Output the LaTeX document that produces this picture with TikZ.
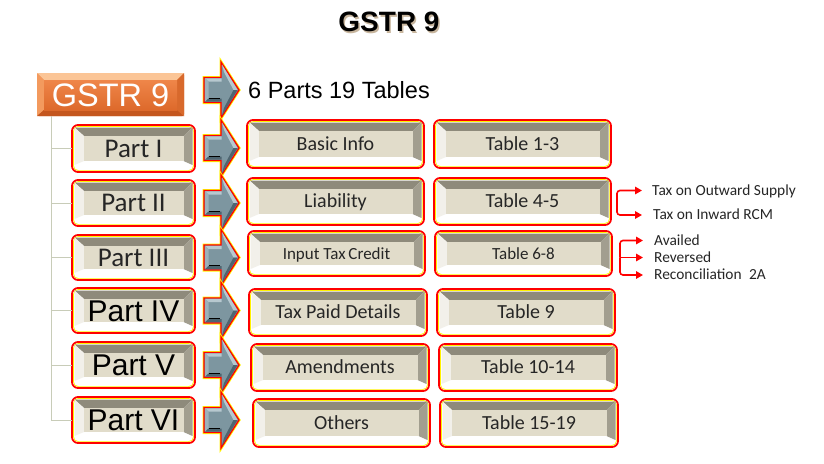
\documentclass[tikz,border=0pt]{standalone}
\usepackage{fontspec}
\setmainfont{Carlito}
\newfontfamily\arialf{Liberation Sans}
\usetikzlibrary{arrows.meta,calc}
\definecolor{bevtop}{HTML}{8E8A7B}
\definecolor{bevright}{HTML}{A29E8F}
\definecolor{bevleft}{HTML}{F2F0EA}
\definecolor{bevface}{HTML}{E1DCCA}
\definecolor{treeclr}{HTML}{C8CCB8}
\definecolor{arrface}{HTML}{7D96A0}
\definecolor{arrlight}{HTML}{B7C8CF}
\definecolor{arrmid}{HTML}{9DB1B9}
\definecolor{arrdark}{HTML}{4E6570}
\definecolor{txtclr}{HTML}{262626}
\definecolor{ortop}{HTML}{FBC596}
\definecolor{orleft}{HTML}{F39A5E}
\definecolor{orbot}{HTML}{C4561E}
\definecolor{orright}{HTML}{D8692C}
\definecolor{orfaceA}{HTML}{EF8649}
\definecolor{orfaceB}{HTML}{DD692B}
\definecolor{shadowclr}{HTML}{9B7B50}
\tikzset{
  treeline/.style={draw=treeclr, line width=1pt},
  brk/.style={draw=red, line width=1.6pt, rounded corners=3pt, -{Triangle[length=7pt,width=7.5pt]}},
  sidelabel/.style={anchor=west, inner sep=0pt, text=txtclr, font=\fontsize{15.4}{17}\selectfont, text height=9.9pt, text depth=0pt},
  smalltxt/.style={font=\fontsize{20}{22}\selectfont, text height=12.9pt},
  tinytxt/.style={font=\fontsize{17}{19}\selectfont, text height=11pt},
  partA/.style={font=\fontsize{27}{29}\selectfont, text height=17.4pt},
  partB/.style={font=\arialf\fontsize{30}{32}\selectfont, text height=21.5pt, text=black},
}
% #1 name, #2 x1, #3 y1, #4 x2, #5 y2, #6 node options, #7 text
\newcommand\bevbox[7]{%
  \pgfmathsetmacro\BVxa{#2+2.5}%
  \pgfmathsetmacro\BVya{#3+2.5}%
  \pgfmathsetmacro\BVxb{#4-2.5}%
  \pgfmathsetmacro\BVyb{#5-7}%
  \pgfmathsetmacro\BVfxa{\BVxa+9.5}%
  \pgfmathsetmacro\BVfya{\BVya+8.5}%
  \pgfmathsetmacro\BVfxb{\BVxb-9}%
  \pgfmathsetmacro\BVfyb{\BVyb-4}%
  \pgfmathsetmacro\BVw{#4-#2}%
  \pgfmathsetmacro\BVh{#5-#3}%
  \pgfmathsetmacro\BVcx{(#2+#4)/2}%
  \pgfmathsetmacro\BVcy{(\BVfya+\BVfyb)/2}%
  \draw[red, line width=1.8pt, fill=white, rounded corners=6pt] (#2,#3) rectangle (#4,#5);
  \draw[yellow, line width=0.7pt, rounded corners=5pt] ({#2+1.4},{#3+1.4}) rectangle ({#4-1.4},{#5-1.4});
  \fill[bevtop] (\BVxa,\BVya) -- (\BVxb,\BVya) -- (\BVfxb,\BVfya) -- (\BVfxa,\BVfya) -- cycle;
  \fill[bevright] (\BVxb,\BVya) -- (\BVxb,\BVyb) -- (\BVfxb,\BVfyb) -- (\BVfxb,\BVfya) -- cycle;
  \fill[bevleft] (\BVxa,\BVya) -- (\BVfxa,\BVfya) -- (\BVfxa,\BVfyb) -- (\BVxa,\BVyb) -- cycle;
  \fill[bevface] (\BVfxa,\BVfya) rectangle (\BVfxb,\BVfyb);
  \node[inner sep=0pt, minimum width=\BVw pt, minimum height=\BVh pt, text depth=0pt, text=txtclr, #6] (#1) at (\BVcx,\BVcy) {#7};
}
% #1 name, #2 centre y
\newcommand\blockarr[2]{%
  \pgfmathsetmacro\ARa{#2-12.5}%
  \pgfmathsetmacro\ARb{#2+12.5}%
  \pgfmathsetmacro\ARc{#2-28}%
  \pgfmathsetmacro\ARd{#2+28}%
  \draw[yellow, line width=3pt, line join=miter] (204,\ARa) -- (221,\ARa) -- (221,\ARc) -- (239,#2) -- (221,\ARd) -- (221,\ARb) -- (204,\ARb) -- cycle;
  \draw[red, line width=1.3pt, fill=arrface, line join=miter] (204,\ARa) -- (221,\ARa) -- (221,\ARc) -- (239,#2) -- (221,\ARd) -- (221,\ARb) -- (204,\ARb) -- cycle;
  \fill[arrlight] (205,{\ARa+0.8}) -- (221.5,{\ARa+0.8}) -- (221.5,{\ARa+4}) -- (208.5,{\ARa+4}) -- cycle;
  \fill[arrmid] (205,{\ARa+0.8}) -- (208.5,{\ARa+4}) -- (208.5,{\ARb-4}) -- (205,{\ARb-0.8}) -- cycle;
  \fill[arrlight] (222,{\ARc+2.5}) -- (237.6,#2) -- (233.5,#2) -- (224,{\ARc+10}) -- cycle;
  \fill[arrdark] (205,{\ARb-0.8}) -- (208.5,{\ARb-4}) -- (221.5,{\ARb-4}) -- (221.5,{\ARb-0.8}) -- cycle;
  \fill[arrdark] (237.6,#2) -- (222,{\ARd-2.5}) -- (224,{\ARd-10}) -- (233.5,#2) -- cycle;
  \draw[black, line width=0.6pt] (209,{\ARb-4.5}) -- (220,{\ARb-4.5});
  \coordinate (#1) at (239,#2);
}
\begin{document}
\begin{tikzpicture}[x=1pt,y=-1pt]
\useasboundingbox (0,0) rectangle (824,463);
\fill[white] (0,0) rectangle (824,463);

% title
\node[text=shadowclr, opacity=0.55, font=\arialf\bfseries\fontsize{28}{30}\selectfont, inner sep=0pt] (titleshadow) at (390.5,23.5) {GSTR 9};
\node[text=black, font=\arialf\bfseries\fontsize{28}{30}\selectfont, inner sep=0pt] (title) at (389,22) {GSTR 9};

% orange root box
\fill[orfaceB, rounded corners=2pt] (37,73) rectangle (184,116);
\fill[ortop] (37,73) -- (184,73) -- (177,80) -- (44,80) -- cycle;
\fill[orleft] (37,73) -- (44,80) -- (44,110) -- (37,116) -- cycle;
\fill[orbot] (37,116) -- (44,110) -- (177,110) -- (184,116) -- cycle;
\fill[orright] (184,73) -- (184,116) -- (177,110) -- (177,80) -- cycle;
\shade[top color=orfaceA, bottom color=orfaceB] (44,80) rectangle (177,110);
\node[inner sep=0pt, minimum width=147pt, minimum height=43pt, text=white, font=\arialf\fontsize{32.5}{34}\selectfont, text height=23.3pt, text depth=0pt] (gstr) at (110.5,94.5) {GSTR 9};

% header arrow and text
\blockarr{a0}{90}
\node[anchor=west, inner sep=0pt, font=\arialf\fontsize{23.5}{25}\selectfont, text height=16.8pt, text depth=0pt] (head) at (248,90) {6 Parts 19 Tables};

% parts column
\bevbox{p1}{72}{125}{195}{172}{partA}{Part I}
\bevbox{p2}{72}{180}{195}{226}{partA}{Part II}
\bevbox{p3}{72}{235}{195}{280}{partA}{Part III}
\bevbox{p4}{72}{288}{195}{333}{partB}{Part IV}
\bevbox{p5}{72}{342}{195}{388}{partB}{Part V}
\bevbox{p6}{72}{397}{195}{443}{partB}{Part VI}

% tree
\coordinate (troot) at ([xshift=15pt]gstr.south west);
\draw[treeline] (troot) |- (p6.west);
\foreach \k in {1,...,5}{\draw[treeline] (troot |- p\k.west) -- (p\k.west);}

% arrows
\blockarr{a1}{148}
\blockarr{a2}{203}
\blockarr{a3}{257.5}
\blockarr{a4}{310.5}
\blockarr{a5}{365}
\blockarr{a6}{420}

% detail boxes
\bevbox{d1}{247}{120}{424}{168}{smalltxt}{Basic Info}
\bevbox{t1}{434}{120}{611}{168}{smalltxt}{Table 1-3}
\bevbox{d2}{247}{178}{424}{225}{smalltxt}{Liability}
\bevbox{t2}{434}{178}{611}{225}{smalltxt}{Table 4-5}
\bevbox{d3}{248}{231}{425}{276}{tinytxt}{Input Tax\,Credit}
\bevbox{t3}{435}{231}{612}{276}{tinytxt}{Table 6-8}
\bevbox{d4}{249}{289}{427}{336}{smalltxt}{Tax Paid Details}
\bevbox{t4}{437}{289}{615}{336}{smalltxt}{Table 9}
\bevbox{d5}{251}{344}{429}{391}{smalltxt}{Amendments}
\bevbox{t5}{439}{344}{617}{391}{smalltxt}{Table 10-14}
\bevbox{d6}{253}{399}{430}{447}{smalltxt}{Others}
\bevbox{t6}{440}{399}{618}{447}{smalltxt}{Table 15-19}

% side labels
\node[sidelabel] (l1) at (652,190.5) {Tax on Outward Supply};
\node[sidelabel] (l2) at (653,215) {Tax on Inward RCM};
\node[sidelabel] (l3) at (654,240.5) {Availed};
\node[sidelabel] (l4) at (654,257.5) {Reversed};
\node[sidelabel] (l5) at (654,275) {Reconciliation\hspace{4pt} 2A};

% brackets
\coordinate (k1) at (617,203);
\draw[brk] (k1) |- ([xshift=-10pt]l1.west);
\draw[brk] (k1) |- ([xshift=-11pt]l2.west);
\coordinate (k2) at (620,257.5);
\draw[brk] (k2) |- ([xshift=-11pt]l3.west);
\draw[brk] (k2) -- ([xshift=-11pt]l4.west);
\draw[brk] (k2) |- ([xshift=-11pt]l5.west);
\end{tikzpicture}
\end{document}
